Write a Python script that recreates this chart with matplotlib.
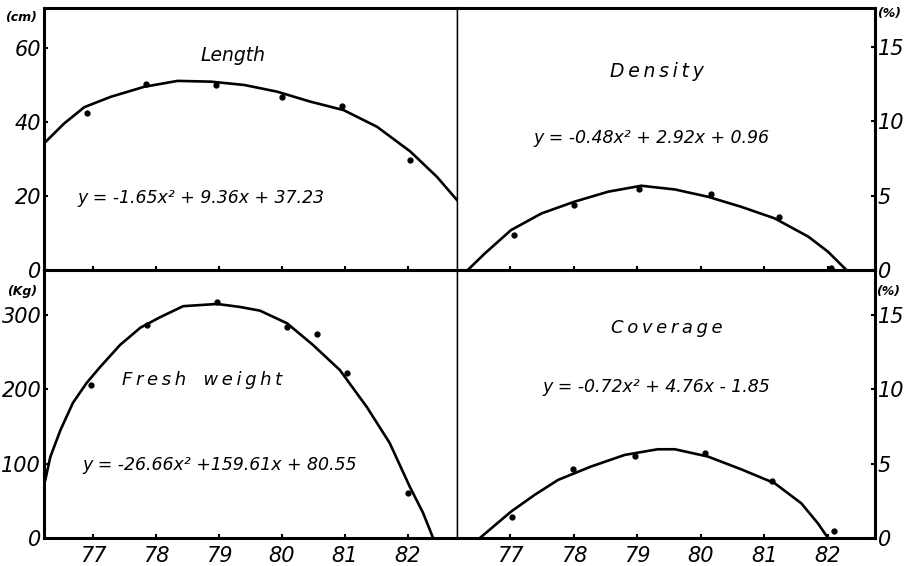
import matplotlib
matplotlib.use("Agg")
import matplotlib.pyplot as plt

# values (x = year, 19xx)
years = [77, 78, 79, 80, 81, 82]

length_x = [76.91, 77.84, 78.95, 80.0, 80.96, 82.03]
length_y = [42.5, 50.3, 50.0, 46.7, 44.4, 29.7]
length_fit_x = [76.22, 76.54, 76.86, 77.28, 77.81, 78.34, 78.87, 79.40, 79.92, 80.45, 80.98, 81.51, 82.04, 82.46, 82.78]
length_fit_y = [34.2, 39.6, 44.0, 46.8, 49.5, 51.1, 50.9, 50.0, 48.2, 45.5, 43.2, 38.7, 32.0, 25.2, 18.9]

density_x = [77.06, 78.0, 79.02, 80.16, 81.23, 82.05]
density_y = [2.35, 4.36, 5.41, 5.1, 3.58, 0.15]
density_fit_x = [76.33, 76.60, 77.01, 77.49, 78.01, 78.54, 79.06, 79.59, 80.11, 80.63, 81.16, 81.69, 82.0, 82.29]
density_fit_y = [0.0, 1.12, 2.68, 3.80, 4.59, 5.26, 5.66, 5.41, 4.92, 4.25, 3.47, 2.24, 1.23, 0.0]

fresh_x = [76.97, 77.86, 78.97, 80.08, 80.56, 81.03, 82.0]
fresh_y = [206, 287, 318, 284, 275, 222, 61]
fresh_fit_x = [76.24, 76.32, 76.48, 76.68, 76.90, 77.11, 77.43, 77.75, 78.06, 78.43, 78.97,
               79.33, 79.65, 80.08, 80.49, 80.92, 81.35, 81.71, 82.03, 82.24, 82.40]
fresh_fit_y = [78, 109, 145, 182, 209, 230, 260, 283, 297, 312, 315,
               311, 306, 289, 260, 226, 176, 128, 69, 34, 0]

cover_x = [77.03, 77.99, 78.96, 80.07, 81.12, 82.09]
cover_y = [1.43, 4.62, 5.51, 5.74, 3.85, 0.49]
cover_fit_x = [76.52, 77.01, 77.38, 77.75, 78.27, 78.80, 79.32, 79.59, 80.11, 80.63, 81.16, 81.58, 81.84, 82.0]
cover_fit_y = [0.0, 1.77, 2.89, 3.90, 4.80, 5.58, 5.96, 5.96, 5.47, 4.62, 3.68, 2.33, 0.99, 0.0]

W, H = 911, 566
fig = plt.figure(figsize=(W / 100, H / 100), dpi=100)

def box(x0, y0, x1, y1):
    # pixel box -> figure fraction
    return [x0 / W, 1 - y1 / H, (x1 - x0) / W, (y1 - y0) / H]

ax_len = fig.add_axes(box(44, 8, 457, 270))
ax_den = fig.add_axes(box(457, 8, 875, 270))
ax_fw = fig.add_axes(box(44, 270, 457, 538))
ax_cov = fig.add_axes(box(457, 270, 875, 538))

title = dict(fontsize=13.5, style="italic", ha="center", va="center")
eq = dict(fontsize=12.5, style="italic", va="center")

for ax in (ax_len, ax_den, ax_fw, ax_cov):
    for s in ax.spines.values():
        s.set_linewidth(2.2)
    ax.tick_params(direction="in", length=3, width=1.5, pad=2, labelsize=15)
    ax.tick_params(axis="x", pad=6)
    ax.set_xticks(years)

ax_len.spines["right"].set_linewidth(1.0)
ax_fw.spines["right"].set_linewidth(1.0)
ax_den.spines["left"].set_linewidth(1.0)
ax_cov.spines["left"].set_linewidth(1.0)

# Length
ax_len.plot(length_fit_x, length_fit_y, color="black", lw=1.9, solid_joinstyle="round")
ax_len.plot(length_x, length_y, "o", color="black", ms=3.5)
ax_len.set_xlim(76.22, 82.78)
ax_len.set_ylim(0, 70.8)
ax_len.set_yticks([0, 20, 40, 60])
ax_len.set_xticklabels([])
ax_len.text(0.458, 0.82, "Length", transform=ax_len.transAxes, **title)
ax_len.text(0.08, 0.275, "y = -1.65x² + 9.36x + 37.23", transform=ax_len.transAxes, ha="left", **eq)

# Density
ax_den.plot(density_fit_x, density_fit_y, color="black", lw=1.9, solid_joinstyle="round")
ax_den.plot(density_x, density_y, "o", color="black", ms=3.5)
ax_den.set_xlim(76.16, 82.74)
ax_den.set_ylim(0, 17.6)
ax_den.set_yticks([0, 5, 10, 15])
ax_den.yaxis.tick_right()
ax_den.set_xticklabels([])
ax_den.text(0.478, 0.756, "D\u2009e\u2009n\u2009s\u2009i\u2009t\u2009y", transform=ax_den.transAxes, **title)
ax_den.text(0.464, 0.504, "y = -0.48x² + 2.92x + 0.96", transform=ax_den.transAxes, ha="center", **eq)

# Fresh weight
ax_fw.plot(fresh_fit_x, fresh_fit_y, color="black", lw=1.9, solid_joinstyle="round")
ax_fw.plot(fresh_x, fresh_y, "o", color="black", ms=3.5)
ax_fw.set_xlim(76.22, 82.78)
ax_fw.set_ylim(0, 360.7)
ax_fw.set_yticks([0, 100, 200, 300])
ax_fw.text(0.383, 0.59, "F\u2009r\u2009e\u2009s\u2009h   w\u2009e\u2009i\u2009g\u2009h\u2009t", transform=ax_fw.transAxes,
           fontsize=13, style="italic", ha="center", va="center")
ax_fw.text(0.092, 0.272, "y = -26.66x² +159.61x + 80.55", transform=ax_fw.transAxes, ha="left", **eq)

# Coverage
ax_cov.plot(cover_fit_x, cover_fit_y, color="black", lw=1.9, solid_joinstyle="round")
ax_cov.plot(cover_x, cover_y, "o", color="black", ms=3.5)
ax_cov.set_xlim(76.16, 82.74)
ax_cov.set_ylim(0, 18.0)
ax_cov.set_yticks([0, 5, 10, 15])
ax_cov.yaxis.tick_right()
ax_cov.text(0.502, 0.784, "C\u2009o\u2009v\u2009e\u2009r\u2009a\u2009g\u2009e", transform=ax_cov.transAxes,
            fontsize=13, style="italic", ha="center", va="center")
ax_cov.text(0.476, 0.563, "y = -0.72x² + 4.76x - 1.85", transform=ax_cov.transAxes, ha="center", **eq)

for ax in (ax_len, ax_den, ax_fw, ax_cov):
    for lab in ax.get_xticklabels() + ax.get_yticklabels():
        lab.set_fontstyle("italic")

# units
unit = dict(fontsize=9, fontweight="bold", style="italic", va="center", ha="left")
fig.text(5 / W, 1 - 17 / H, "(cm)", **unit)
fig.text(7 / W, 1 - 292 / H, "(Kg)", **unit)
fig.text(877 / W, 1 - 14 / H, "(%)", **unit)
fig.text(876 / W, 1 - 292 / H, "(%)", **unit)

fig.savefig("out.png", dpi=100)
